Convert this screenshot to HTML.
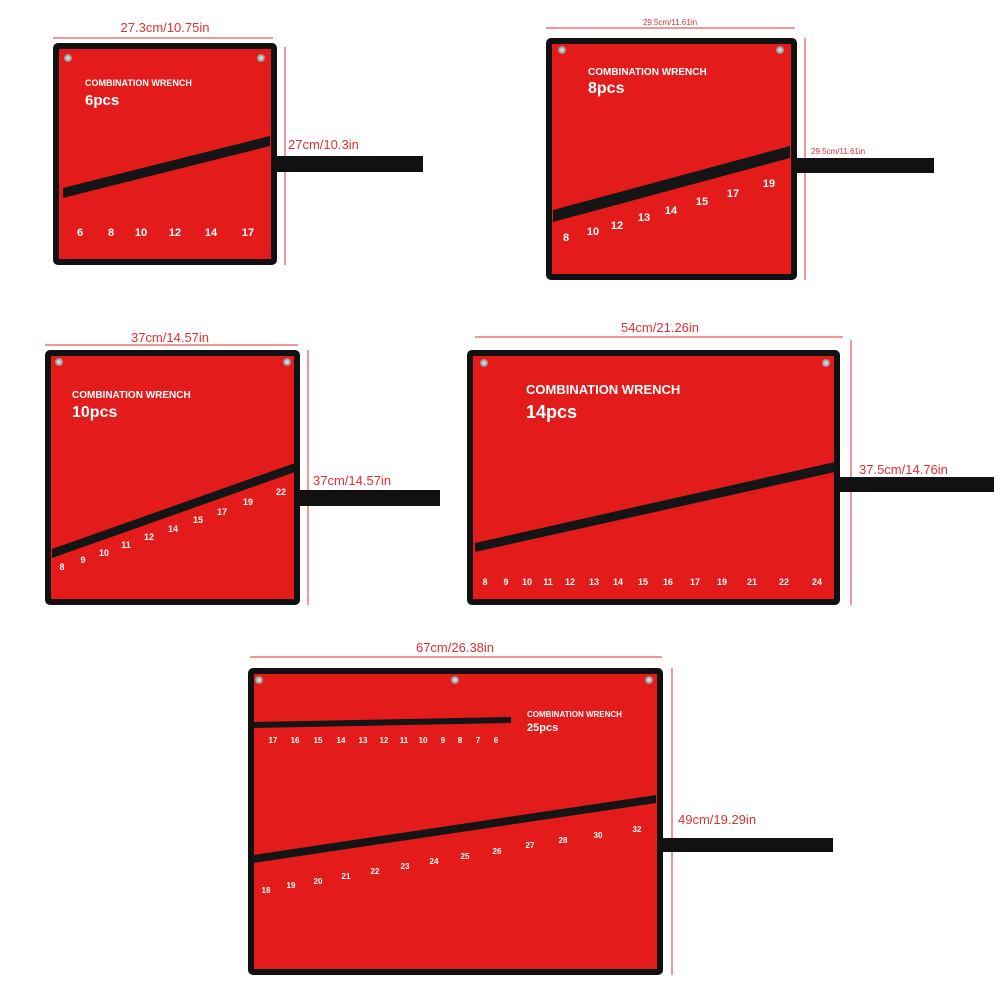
<!DOCTYPE html>
<html><head><meta charset="utf-8"><style>
html,body{margin:0;padding:0;background:#fff}
svg{display:block}
text{font-family:"Liberation Sans",sans-serif}
.w{fill:#fff;font-weight:bold}
.d{fill:#e03030;font-size:13px}
</style></head><body>
<svg width="1001" height="1001" viewBox="0 0 1001 1001">
<defs>
<radialGradient id="g"><stop offset="0" stop-color="#eee"/><stop offset="1" stop-color="#888"/></radialGradient>
</defs>
<g stroke="#e03030" stroke-width="1" fill="none">
<line x1="53" y1="38" x2="273" y2="38"/><line x1="285" y1="47" x2="285" y2="265"/>
<line x1="546" y1="28" x2="795" y2="28"/><line x1="805" y1="38" x2="805" y2="280"/>
<line x1="45" y1="345" x2="298" y2="345"/><line x1="308" y1="350" x2="308" y2="605"/>
<line x1="475" y1="337" x2="843" y2="337"/><line x1="851" y1="340" x2="851" y2="605"/>
<line x1="250" y1="657" x2="662" y2="657"/><line x1="672" y1="668" x2="672" y2="975"/>
</g>
<text class="d" x="165" y="32" text-anchor="middle">27.3cm/10.75in</text>
<text class="d" x="288" y="149">27cm/10.3in</text>
<text class="d" x="670" y="25" text-anchor="middle" style="font-size:8px">29.5cm/11.61in</text>
<text class="d" x="811" y="154" style="font-size:8px">29.5cm/11.61in</text>
<text class="d" x="170" y="342" text-anchor="middle">37cm/14.57in</text>
<text class="d" x="313" y="485">37cm/14.57in</text>
<text class="d" x="660" y="332" text-anchor="middle">54cm/21.26in</text>
<text class="d" x="859" y="474">37.5cm/14.76in</text>
<text class="d" x="455" y="652" text-anchor="middle">67cm/26.38in</text>
<text class="d" x="678" y="824">49cm/19.29in</text>

<!-- panel 1 -->
<rect x="277" y="156" width="146" height="16" fill="#111"/>
<rect x="53" y="43" width="224" height="222" rx="5" fill="#111"/>
<rect x="59" y="49" width="212" height="210" fill="#e41b1b"/>
<polygon points="63,188 270,136 270,146 63,198" fill="#151515"/>
<circle cx="68" cy="58" r="4" fill="url(#g)"/><circle cx="261" cy="58" r="4" fill="url(#g)"/>
<text class="w" x="85" y="86" font-size="9">COMBINATION WRENCH</text>
<text class="w" x="85" y="105" font-size="15">6pcs</text>
<g class="w" font-size="11" text-anchor="middle"><text x="80" y="236">6</text><text x="111" y="236">8</text><text x="141" y="236">10</text><text x="175" y="236">12</text><text x="211" y="236">14</text><text x="248" y="236">17</text></g>

<!-- panel 2 -->
<rect x="797" y="158" width="137" height="15" fill="#111"/>
<rect x="546" y="38" width="251" height="242" rx="5" fill="#111"/>
<rect x="552" y="44" width="239" height="230" fill="#e41b1b"/>
<polygon points="553,210 790,146 790,158 553,222" fill="#151515"/>
<circle cx="562" cy="50" r="4" fill="url(#g)"/><circle cx="780" cy="50" r="4" fill="url(#g)"/>
<text class="w" x="588" y="75" font-size="10">COMBINATION WRENCH</text>
<text class="w" x="588" y="93" font-size="16">8pcs</text>
<g class="w" font-size="11" text-anchor="middle"><text x="566" y="241">8</text><text x="593" y="235">10</text><text x="617" y="229">12</text><text x="644" y="221">13</text><text x="671" y="214">14</text><text x="702" y="205">15</text><text x="733" y="197">17</text><text x="769" y="187">19</text></g>

<!-- panel 3 -->
<rect x="300" y="490" width="140" height="16" fill="#111"/>
<rect x="45" y="350" width="255" height="255" rx="5" fill="#111"/>
<rect x="51" y="356" width="243" height="243" fill="#e41b1b"/>
<polygon points="52,549 295,463 295,472 52,558" fill="#151515"/>
<circle cx="59" cy="362" r="4" fill="url(#g)"/><circle cx="287" cy="362" r="4" fill="url(#g)"/>
<text class="w" x="72" y="398" font-size="10">COMBINATION WRENCH</text>
<text class="w" x="72" y="417" font-size="16">10pcs</text>
<g class="w" font-size="9" text-anchor="middle"><text x="62" y="570">8</text><text x="83" y="563">9</text><text x="104" y="556">10</text><text x="126" y="548">11</text><text x="149" y="540">12</text><text x="173" y="532">14</text><text x="198" y="523">15</text><text x="222" y="515">17</text><text x="248" y="505">19</text><text x="281" y="495">22</text></g>

<!-- panel 4 -->
<rect x="840" y="477" width="154" height="15" fill="#111"/>
<rect x="467" y="350" width="373" height="255" rx="5" fill="#111"/>
<rect x="473" y="356" width="361" height="243" fill="#e41b1b"/>
<polygon points="475,543 835,462 835,472 475,552" fill="#151515"/>
<circle cx="484" cy="363" r="4" fill="url(#g)"/><circle cx="826" cy="363" r="4" fill="url(#g)"/>
<text class="w" x="526" y="394" font-size="13">COMBINATION WRENCH</text>
<text class="w" x="526" y="418" font-size="18">14pcs</text>
<g class="w" font-size="9" text-anchor="middle"><text x="485" y="585">8</text><text x="506" y="585">9</text><text x="527" y="585">10</text><text x="548" y="585">11</text><text x="570" y="585">12</text><text x="594" y="585">13</text><text x="618" y="585">14</text><text x="643" y="585">15</text><text x="668" y="585">16</text><text x="695" y="585">17</text><text x="722" y="585">19</text><text x="752" y="585">21</text><text x="784" y="585">22</text><text x="817" y="585">24</text></g>

<!-- panel 5 -->
<rect x="663" y="838" width="170" height="14" fill="#111"/>
<rect x="248" y="668" width="415" height="307" rx="5" fill="#111"/>
<rect x="254" y="674" width="403" height="295" fill="#e41b1b"/>
<polygon points="254,722 511,717 511,723 254,728" fill="#151515"/>
<polygon points="253,855 656,795 656,803 253,863" fill="#151515"/>
<circle cx="259" cy="680" r="4" fill="url(#g)"/><circle cx="455" cy="680" r="4" fill="url(#g)"/><circle cx="649" cy="680" r="4" fill="url(#g)"/>
<text class="w" x="527" y="717" font-size="8">COMBINATION WRENCH</text>
<text class="w" x="527" y="731" font-size="11">25pcs</text>
<g class="w" font-size="8" text-anchor="middle"><text x="273" y="743">17</text><text x="295" y="743">16</text><text x="318" y="743">15</text><text x="341" y="743">14</text><text x="363" y="743">13</text><text x="384" y="743">12</text><text x="404" y="743">11</text><text x="423" y="743">10</text><text x="443" y="743">9</text><text x="460" y="743">8</text><text x="478" y="743">7</text><text x="496" y="743">6</text></g>
<g class="w" font-size="8" text-anchor="middle"><text x="266" y="893">18</text><text x="291" y="888">19</text><text x="318" y="884">20</text><text x="346" y="879">21</text><text x="375" y="874">22</text><text x="405" y="869">23</text><text x="434" y="864">24</text><text x="465" y="859">25</text><text x="497" y="854">26</text><text x="530" y="848">27</text><text x="563" y="843">28</text><text x="598" y="838">30</text><text x="637" y="832">32</text></g>
</svg>
</body></html>
